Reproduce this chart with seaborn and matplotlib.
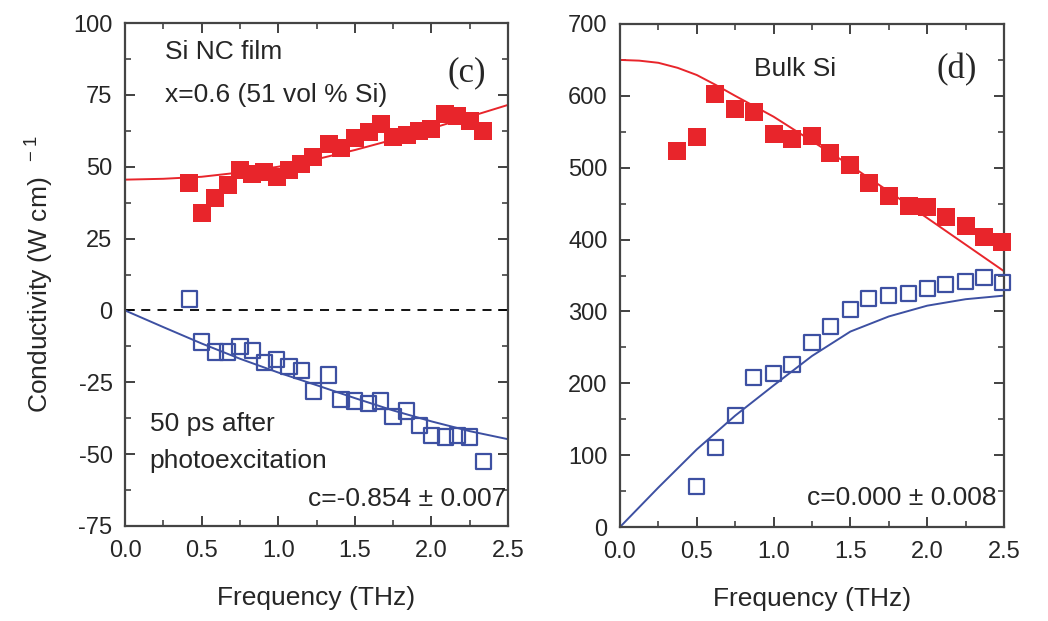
import numpy as np
import pandas as pd
import matplotlib
matplotlib.use("Agg")
import matplotlib.pyplot as plt
import seaborn as sns
from matplotlib.ticker import MultipleLocator

# ---------------- data ----------------
c_freq = [0.42, 0.50, 0.59, 0.67, 0.75, 0.83, 0.91, 0.99, 1.07, 1.15, 1.23, 1.33,
          1.41, 1.50, 1.59, 1.67, 1.75, 1.84, 1.92, 2.00, 2.09, 2.17, 2.25, 2.34]
c_re = [44.5, 34, 39, 43.5, 49, 47.5, 48, 46.5, 49, 51, 53.5, 58,
        56.5, 60, 62, 65, 60.5, 61, 62.5, 63, 68.5, 67.5, 66, 62.5]
c_im = [4, -11, -14.5, -14.5, -12.5, -14, -18, -17, -19.5, -21, -28, -22.5,
        -31, -31.5, -32.5, -31.5, -37, -35, -40, -43.5, -44, -43.5, -44, -52.5]
c_fit_freq = [0.0, 0.25, 0.5, 0.75, 1.0, 1.25, 1.5, 1.75, 2.0, 2.25, 2.5]
c_fit_re = [45.5, 45.8, 46.5, 48.0, 50.0, 52.6, 55.8, 59.4, 63.3, 67.4, 71.5]
c_fit_im = [0.0, -5.8, -11.5, -16.8, -21.6, -26.0, -30.5, -34.8, -38.6, -42.0, -44.8]

d_freq_re = [0.37, 0.50, 0.62, 0.75, 0.87, 1.00, 1.12, 1.25, 1.37, 1.50, 1.62,
             1.75, 1.88, 2.00, 2.12, 2.25, 2.37, 2.49]
d_re = [523, 543, 602, 582, 578, 547, 540, 544, 521, 504, 479,
        461, 447, 446, 431, 419, 403, 397]
d_freq_im = [0.50, 0.62, 0.75, 0.87, 1.00, 1.12, 1.25, 1.37, 1.50, 1.62,
             1.75, 1.88, 2.00, 2.12, 2.25, 2.37, 2.49]
d_im = [56, 111, 155, 208, 214, 226, 257, 279, 303, 318,
        322, 325, 332, 337, 342, 347, 340]
d_fit_freq_re = [0.0, 0.125, 0.25, 0.375, 0.5, 0.625, 0.75, 1.0, 1.25, 1.5, 1.75, 2.0, 2.25, 2.5]
d_fit_re = [650, 649, 646, 639, 629, 615, 600, 571, 537, 503, 467, 430, 393, 356]
d_fit_freq_im = [0.0, 0.25, 0.5, 0.75, 1.0, 1.25, 1.5, 1.75, 2.0, 2.25, 2.5]
d_fit_im = [0, 55, 108, 155, 197, 238, 272, 293, 308, 317, 322]

x_ticks = [0.0, 0.5, 1.0, 1.5, 2.0, 2.5]
c_yticks = [-75, -50, -25, 0, 25, 50, 75, 100]
d_yticks = [0, 100, 200, 300, 400, 500, 600, 700]

RED = "#e8252b"
BLUE = "#3d50a2"

sns.set_style("ticks")
plt.rcParams["font.family"] = ["Liberation Sans", "DejaVu Sans"]
plt.rcParams["mathtext.default"] = "regular"
plt.rcParams["axes.unicode_minus"] = False

TXT = 19
TICK = 17
LAB = 19

fig = plt.figure(figsize=(10.48, 6.21), dpi=100)
ax1 = fig.add_axes([125 / 1048, 1 - 526 / 621, 383 / 1048, 503 / 621])
ax2 = fig.add_axes([620 / 1048, 1 - 527 / 621, 384 / 1048, 503 / 621])

cdf = pd.DataFrame({"f": c_freq, "re": c_re, "im": c_im})
cfit = pd.DataFrame({"f": c_fit_freq, "re": c_fit_re, "im": c_fit_im})

# ---- panel (c) ----
ax1.axhline(0, color="black", lw=1.3, ls=(0, (5, 4)), zorder=1)
sns.lineplot(data=cfit, x="f", y="re", ax=ax1, color=RED, lw=1.4, zorder=2)
sns.lineplot(data=cfit, x="f", y="im", ax=ax1, color=BLUE, lw=1.4, zorder=2)
sns.scatterplot(data=cdf, x="f", y="re", ax=ax1, marker="s", s=150, color=RED,
                edgecolor=RED, linewidth=0, zorder=3)
sns.scatterplot(data=cdf, x="f", y="im", ax=ax1, marker="s", s=120,
                facecolor="none", edgecolor=BLUE, linewidth=1.6, zorder=3)

ax1.set_xlim(0, 2.5)
ax1.set_ylim(-75, 100)
ax1.set_yticks(c_yticks)
ax1.yaxis.set_minor_locator(MultipleLocator(12.5))
ax1.set_ylabel(r"Conductivity (W cm)$^{\ \ -1}$", fontsize=LAB)
ax1.yaxis.set_label_coords(-0.18, 0.5)

ax1.text(0.26, 90, "Si NC film", fontsize=TXT, va="center", ha="left")
ax1.text(0.26, 75, "x=0.6 (51 vol % Si)", fontsize=TXT, va="center", ha="left")
ax1.text(2.23, 82.5, "(c)", fontsize=25, va="center", ha="center",
         family="Liberation Serif")
ax1.text(0.16, -39.5, "50 ps after", fontsize=TXT, va="center", ha="left")
ax1.text(0.16, -52.5, "photoexcitation", fontsize=TXT, va="center", ha="left")
ax1.text(2.49, -65.5, "c=-0.854 \u00b1 0.007", fontsize=TXT, va="center", ha="right")

# ---- panel (d) ----
dre = pd.DataFrame({"f": d_freq_re, "v": d_re})
dim = pd.DataFrame({"f": d_freq_im, "v": d_im})
dfre = pd.DataFrame({"f": d_fit_freq_re, "v": d_fit_re})
dfim = pd.DataFrame({"f": d_fit_freq_im, "v": d_fit_im})
sns.lineplot(data=dfre, x="f", y="v", ax=ax2, color=RED, lw=1.4, zorder=2)
sns.lineplot(data=dfim, x="f", y="v", ax=ax2, color=BLUE, lw=1.4, zorder=2)
sns.scatterplot(data=dre, x="f", y="v", ax=ax2, marker="s", s=150, color=RED,
                edgecolor=RED, linewidth=0, zorder=3, clip_on=False)
sns.scatterplot(data=dim, x="f", y="v", ax=ax2, marker="s", s=120,
                facecolor="none", edgecolor=BLUE, linewidth=1.6, zorder=3, clip_on=False)
ax2.set_xlim(0, 2.5)
ax2.set_ylim(0, 700)
ax2.set_yticks(d_yticks)
ax2.yaxis.set_minor_locator(MultipleLocator(50))
ax2.set_ylabel("")

ax2.text(1.14, 637, "Bulk Si", fontsize=TXT, va="center", ha="center")
ax2.text(2.19, 636, "(d)", fontsize=25, va="center", ha="center",
         family="Liberation Serif")
ax2.text(2.45, 41, "c=0.000 \u00b1 0.008", fontsize=TXT, va="center", ha="right")

for ax in (ax1, ax2):
    ax.set_xticks(x_ticks)
    ax.set_xticklabels([f"{t:.1f}" for t in x_ticks])
    ax.xaxis.set_minor_locator(MultipleLocator(0.25))
    ax.set_xlabel("Frequency (THz)", fontsize=LAB)
    ax.xaxis.set_label_coords(0.5, -0.12)
    ax.tick_params(which="both", direction="in", top=True, right=True,
                   labelsize=TICK, color="#333333")
    ax.tick_params(axis="x", which="major", pad=10)
    ax.tick_params(axis="y", which="major", pad=9)
    ax.tick_params(which="major", length=7, width=1.3)
    ax.tick_params(which="minor", length=4, width=1.1)
    for sp in ax.spines.values():
        sp.set_linewidth(1.6)
        sp.set_color("#444444")
        sp.set_visible(True)

fig.savefig("out.png", dpi=100)
